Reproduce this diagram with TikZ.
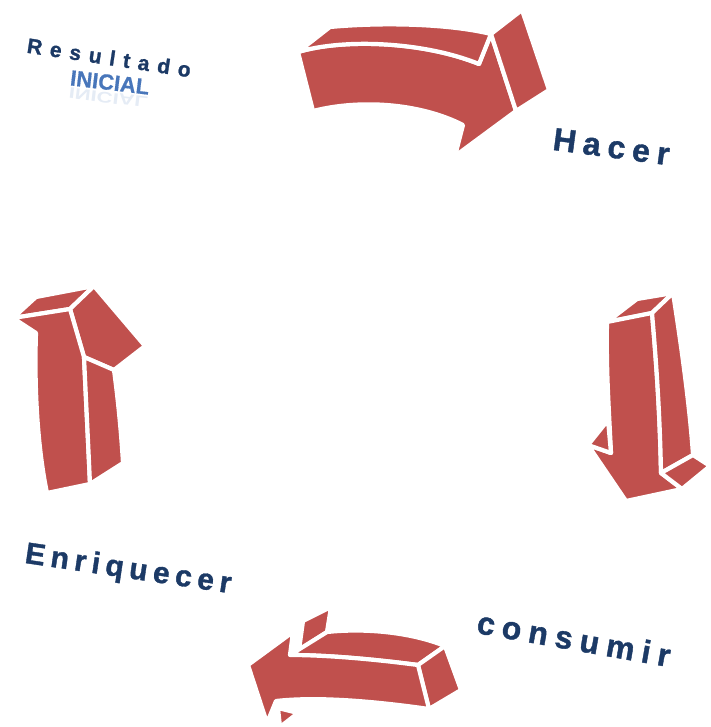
\documentclass[tikz,border=0pt]{standalone}
\usepackage{fontspec}
\setmainfont{Liberation Sans}
\definecolor{arrowred}{RGB}{192,80,77}
\definecolor{txtblue}{RGB}{28,58,102}
\definecolor{inicblue}{RGB}{72,118,186}
\tikzset{
  face/.style={fill=arrowred, draw=white, line width=4.2pt, line join=round},
  lab/.style={anchor=base, inner sep=0pt, text=txtblue, font=\bfseries},
}
\begin{document}
\begin{tikzpicture}[x=1pt,y=-1pt]
\useasboundingbox (0,0) rectangle (710,727);
% ---------- top arrow (pointing right) ----------
\path[face] (298,52) .. controls (345,38) and (425,42) .. (479,64) -- (491,34) -- (516,111) -- (455,156) -- (463,125) .. controls (420,103) and (360,99) .. (313,111) -- cycle;
\path[face] (298,52) -- (330,27) .. controls (385,22) and (450,24) .. (491,34) -- (479,64) .. controls (425,42) and (345,38) .. (298,52) -- cycle;
\path[face] (491,34) -- (522,10) -- (549,90) -- (516,111) -- cycle;
% ---------- right arrow (pointing down) ----------
\path[face] (607,322) -- (637,299) -- (673,293) -- (652,313) -- cycle;
\path[face] (607,322) -- (652,313) .. controls (657,370) and (660,420) .. (661,473) -- (682,489) -- (626,501) -- (588,445) -- (611,453) .. controls (609,410) and (606,370) .. (607,322) -- cycle;
\path[face] (588,445) -- (608,420) -- (611,453) -- cycle;
\path[face] (652,313) -- (673,293) .. controls (682,350) and (690,410) .. (693,455) -- (661,473) .. controls (660,420) and (657,370) .. (652,313) -- cycle;
\path[face] (661,473) -- (693,455) -- (710,466) -- (682,489) -- cycle;
% ---------- left arrow (pointing up) ----------
\path[face] (13,318) -- (36,297) -- (94,286) -- (70,309) -- cycle;
\path[face] (70,309) -- (94,286) -- (145,346) -- (114,370) -- (84,357) -- cycle;
\path[face] (13,318) -- (70,309) -- (84,357) .. controls (86,400) and (88,440) .. (90,484) -- (47,493) .. controls (38,450) and (34,390) .. (36,333) -- cycle;
\path[face] (84,357) -- (114,370) .. controls (118,400) and (121,430) .. (123,463) -- (90,484) .. controls (88,440) and (86,400) .. (84,357) -- cycle;
% ---------- bottom arrow (pointing left) ----------
\path[face] (303,621) -- (331,607) -- (327,632) -- (299,650) -- cycle;
\path[face] (290,655) -- (327,632) .. controls (365,628) and (410,632) .. (445,646) -- (418,665) .. controls (380,660) and (330,655) .. (290,655) -- cycle;
\path[face] (418,665) -- (445,646) -- (461,690) -- (429,709) -- cycle;
\path[face] (248,665) -- (293,632) -- (290,655) .. controls (330,655) and (380,660) .. (418,665) -- (429,709) .. controls (380,702) and (320,696) .. (276,701) -- (267,723) -- cycle;
\path[face] (278,708) -- (298,713) -- (280,727) -- cycle;
% ---------- labels ----------
\node[lab, rotate=-8.6] (resultado) at (108,65)
  {\fontsize{21}{21}\selectfont\addfontfeature{LetterSpace=38,FakeBold=1.2}Resultado};
\node[lab, rotate=-6.8, text=inicblue] (inicial) at (109,90)
  {\fontsize{22}{22}\selectfont\addfontfeature{FakeBold=0.6}INICIAL};
\node[lab, rotate=-6.8, text=inicblue, text opacity=0.14, anchor=base] (inicialrefl) at (109,92.5)
  {\fontsize{22}{22}\selectfont\scalebox{1}[-0.7]{INICIAL}};
\node[lab, rotate=-7.6] (hacer) at (610,157.5)
  {\fontsize{32}{32}\selectfont\addfontfeature{LetterSpace=22,FakeBold=1.2}Hacer};
\node[lab, rotate=-8.4] (enriquecer) at (127,578)
  {\fontsize{30}{30}\selectfont\addfontfeature{LetterSpace=19,FakeBold=1.2}Enriquecer};
\node[lab, rotate=-10] (consumir) at (572,650)
  {\fontsize{32}{32}\selectfont\addfontfeature{LetterSpace=23,FakeBold=1.2}consumir};
\end{tikzpicture}
\end{document}
